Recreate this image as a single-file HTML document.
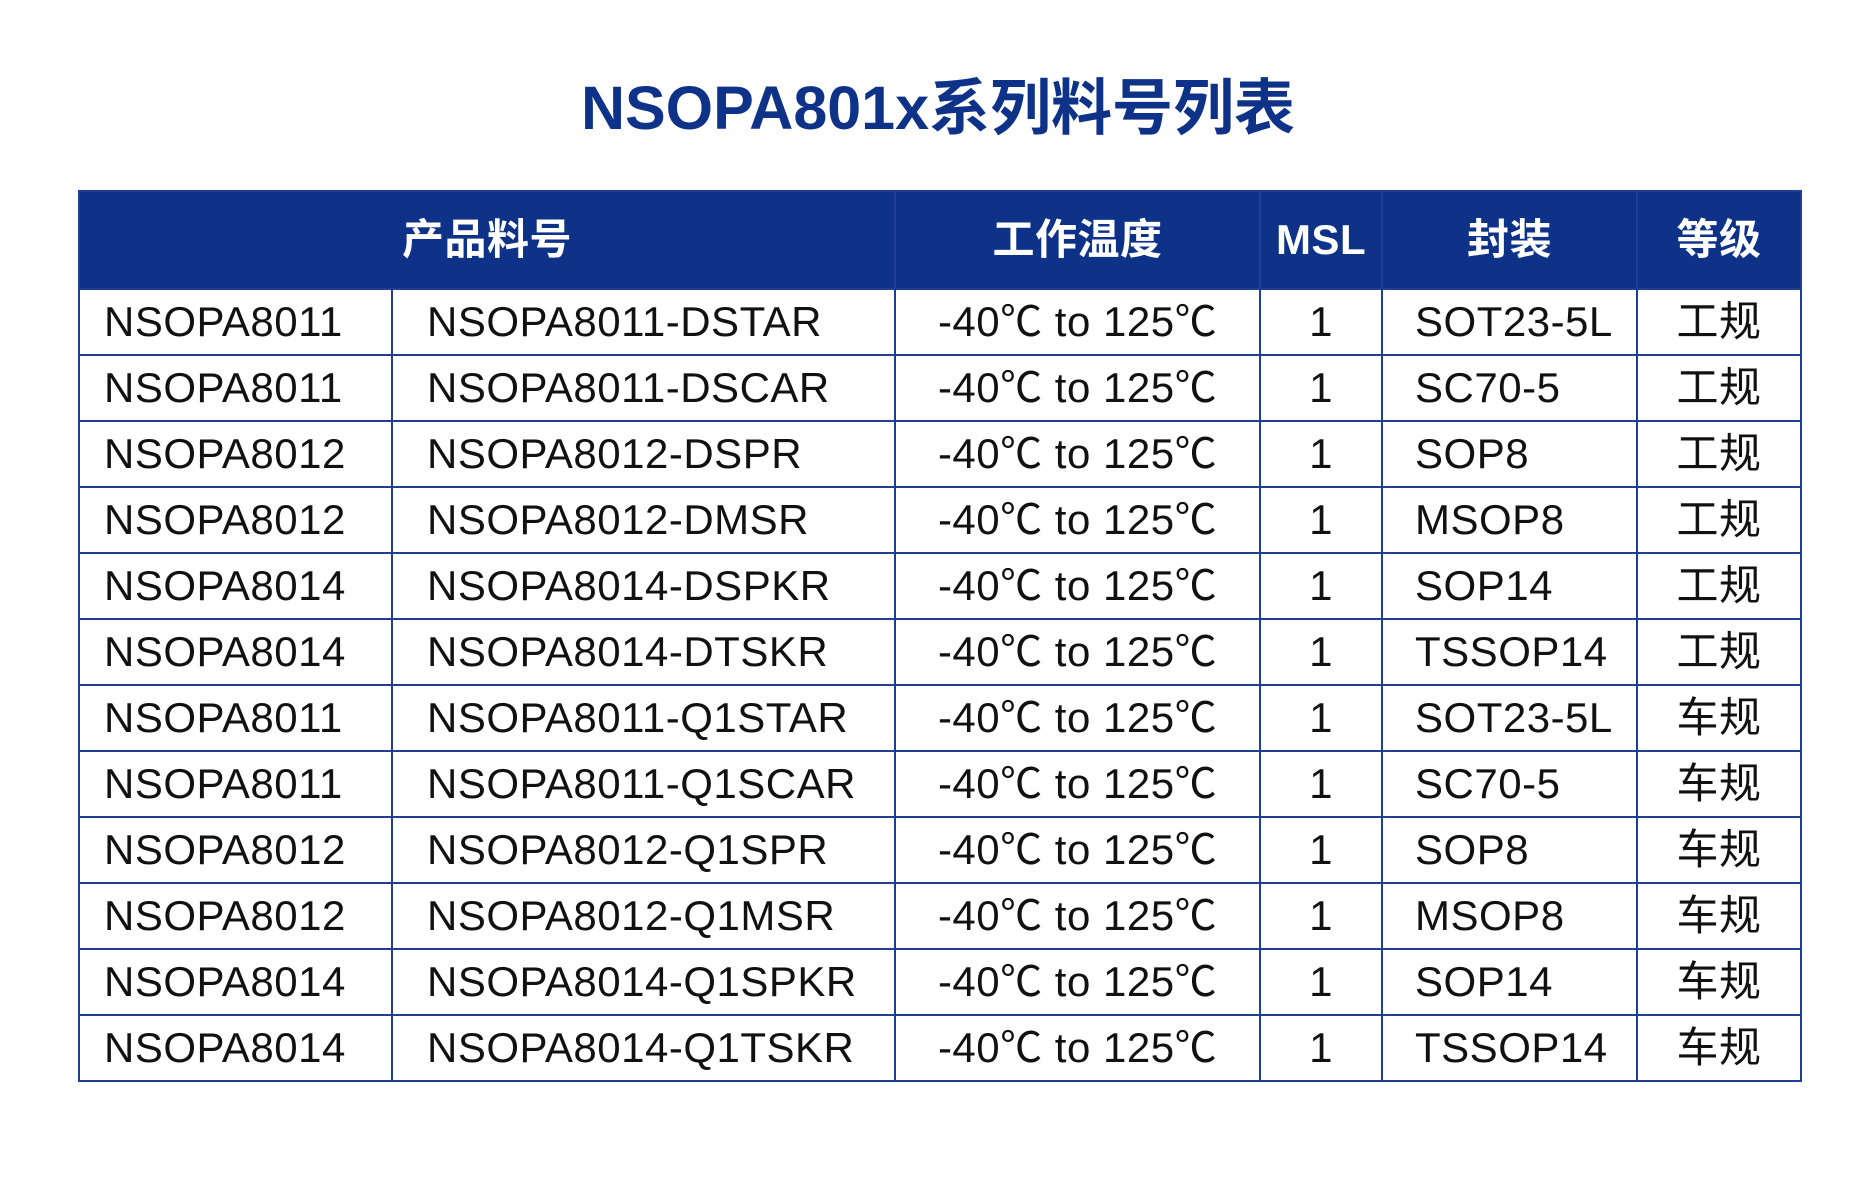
<!DOCTYPE html>
<html><head><meta charset="utf-8"><style>
html,body{margin:0;padding:0;background:#fff;width:1876px;height:1186px;overflow:hidden}
body{font-family:"Liberation Sans","Noto Sans CJK SC",sans-serif;position:relative}
h1{position:absolute;top:68px;left:0;width:1876px;margin:0;text-align:center;font-size:61px;color:#0f3289;font-weight:bold;line-height:80px}
table{position:absolute;left:78px;top:190px;width:1722px;border-collapse:collapse;table-layout:fixed}
td,th{border:2px solid #1f3f95;padding:0;font-size:42px;white-space:nowrap;letter-spacing:0.5px;box-sizing:border-box}
th{background:#0f3289;color:#fff;height:98px;line-height:94px;font-weight:bold;text-align:center}
td{height:66px;line-height:64px;color:#111;overflow:hidden}
.l1{padding-left:24px}.l2{padding-left:34px}.l5{padding-left:32px}
.c{text-align:center}
</style></head><body>
<h1>NSOPA801x系列料号列表</h1>
<table>
<colgroup><col style="width:313px"><col style="width:503px"><col style="width:365px"><col style="width:122px"><col style="width:255px"><col style="width:164px"></colgroup>
<tr><th colspan="2">产品料号</th><th>工作温度</th><th>MSL</th><th>封装</th><th>等级</th></tr>
<tr><td class="l1">NSOPA8011</td><td class="l2">NSOPA8011-DSTAR</td><td class="c">-40℃ to 125℃</td><td class="c">1</td><td class="l5">SOT23-5L</td><td class="c">工规</td></tr>
<tr><td class="l1">NSOPA8011</td><td class="l2">NSOPA8011-DSCAR</td><td class="c">-40℃ to 125℃</td><td class="c">1</td><td class="l5">SC70-5</td><td class="c">工规</td></tr>
<tr><td class="l1">NSOPA8012</td><td class="l2">NSOPA8012-DSPR</td><td class="c">-40℃ to 125℃</td><td class="c">1</td><td class="l5">SOP8</td><td class="c">工规</td></tr>
<tr><td class="l1">NSOPA8012</td><td class="l2">NSOPA8012-DMSR</td><td class="c">-40℃ to 125℃</td><td class="c">1</td><td class="l5">MSOP8</td><td class="c">工规</td></tr>
<tr><td class="l1">NSOPA8014</td><td class="l2">NSOPA8014-DSPKR</td><td class="c">-40℃ to 125℃</td><td class="c">1</td><td class="l5">SOP14</td><td class="c">工规</td></tr>
<tr><td class="l1">NSOPA8014</td><td class="l2">NSOPA8014-DTSKR</td><td class="c">-40℃ to 125℃</td><td class="c">1</td><td class="l5">TSSOP14</td><td class="c">工规</td></tr>
<tr><td class="l1">NSOPA8011</td><td class="l2">NSOPA8011-Q1STAR</td><td class="c">-40℃ to 125℃</td><td class="c">1</td><td class="l5">SOT23-5L</td><td class="c">车规</td></tr>
<tr><td class="l1">NSOPA8011</td><td class="l2">NSOPA8011-Q1SCAR</td><td class="c">-40℃ to 125℃</td><td class="c">1</td><td class="l5">SC70-5</td><td class="c">车规</td></tr>
<tr><td class="l1">NSOPA8012</td><td class="l2">NSOPA8012-Q1SPR</td><td class="c">-40℃ to 125℃</td><td class="c">1</td><td class="l5">SOP8</td><td class="c">车规</td></tr>
<tr><td class="l1">NSOPA8012</td><td class="l2">NSOPA8012-Q1MSR</td><td class="c">-40℃ to 125℃</td><td class="c">1</td><td class="l5">MSOP8</td><td class="c">车规</td></tr>
<tr><td class="l1">NSOPA8014</td><td class="l2">NSOPA8014-Q1SPKR</td><td class="c">-40℃ to 125℃</td><td class="c">1</td><td class="l5">SOP14</td><td class="c">车规</td></tr>
<tr><td class="l1">NSOPA8014</td><td class="l2">NSOPA8014-Q1TSKR</td><td class="c">-40℃ to 125℃</td><td class="c">1</td><td class="l5">TSSOP14</td><td class="c">车规</td></tr>
</table>
</body></html>
